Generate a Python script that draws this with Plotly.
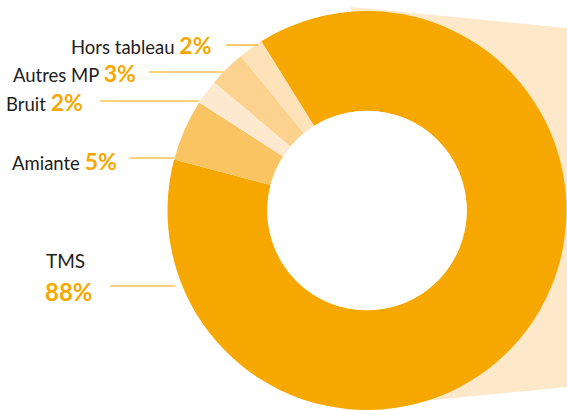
import plotly.graph_objects as go

# Data
categories = ["TMS", "Amiante", "Bruit", "Autres MP", "Hors tableau"]
values = [88, 5, 2, 3, 2]
colors = ["#F7A800", "#FBC463", "#FDE9CF", "#FCD28E", "#FDE2BA"]

W, H = 567, 410
ORANGE = "#F7A800"
TXT = "#1d1d1b"
FONT = "Lato"

CX, CY, R_OUT = 367, 210.5, 199.5
HOLE = 0.5

fig = go.Figure()
fig.add_trace(go.Pie(
    labels=categories,
    values=values,
    sort=False,
    direction="clockwise",
    rotation=-32,
    hole=HOLE,
    marker=dict(colors=colors, line=dict(width=0)),
    textinfo="none",
    hoverinfo="label+percent",
    showlegend=False,
    domain=dict(x=[(CX - R_OUT) / W, min(1, (CX + R_OUT) / W)],
                y=[max(0, 1 - (CY + R_OUT) / H), 1 - (CY - R_OUT) / H]),
))

def px(x):
    return x / W

def py(y):
    return 1 - y / H

shapes = []
# peach zoom background
shapes.append(dict(
    type="path", xref="paper", yref="paper", layer="below",
    path=f"M {px(351)},{py(7)} L {px(567)},{py(28)} L {px(567)},{py(387)} L {px(351)},{py(408)} Z",
    fillcolor="#FDE8C9", line=dict(width=0),
))
# white centre of the donut
r_in = R_OUT * HOLE
shapes.append(dict(
    type="circle", xref="paper", yref="paper", layer="above",
    x0=px(CX - r_in), x1=px(CX + r_in), y0=py(CY + r_in), y1=py(CY - r_in),
    fillcolor="white", line=dict(width=0),
))

# label layout: (category, text right x, text center y, line x0, line x1, line y)
label_pos = {
    "Hors tableau": (214, 45, 226, 258, 45),
    "Autres MP": (138, 73, 149, 223, 72),
    "Bruit": (85, 102, 100, 199, 101),
    "Amiante": (119, 161, 130, 174, 158),
}

annotations = []
for cat, val in zip(categories, values):
    if cat in label_pos:
        tx, ty, lx0, lx1, ly = label_pos[cat]
        annotations.append(dict(
            xref="paper", yref="paper", x=px(tx), y=py(ty),
            xanchor="right", yanchor="middle", showarrow=False,
            text=f"{cat} <b><span style='color:{ORANGE};font-size:23px'>{val}%</span></b>",
            font=dict(family=FONT, size=18.5, color=TXT),
        ))
        shapes.append(dict(type="line", xref="paper", yref="paper",
                           x0=px(lx0), x1=px(lx1), y0=py(ly), y1=py(ly),
                           line=dict(color=ORANGE, width=1.2)))
    else:
        annotations.append(dict(
            xref="paper", yref="paper", x=px(44), y=py(260),
            xanchor="left", yanchor="middle", showarrow=False,
            text=cat, font=dict(family=FONT, size=19, color=TXT),
        ))
        annotations.append(dict(
            xref="paper", yref="paper", x=px(43), y=py(291),
            xanchor="left", yanchor="middle", showarrow=False,
            text=f"<b>{val}%</b>", font=dict(family=FONT, size=24, color=ORANGE),
        ))
        shapes.append(dict(type="line", xref="paper", yref="paper",
                           x0=px(110), x1=px(175), y0=py(286), y1=py(286),
                           line=dict(color=ORANGE, width=1.2)))

fig.update_layout(
    width=W, height=H,
    margin=dict(l=0, r=0, t=0, b=0),
    paper_bgcolor="white", plot_bgcolor="white",
    shapes=shapes, annotations=annotations,
)

fig.write_html(
    "out.html",
    config={"displayModeBar": False},
    post_script="document.body.style.margin='0';document.body.style.overflow='hidden';",
)
